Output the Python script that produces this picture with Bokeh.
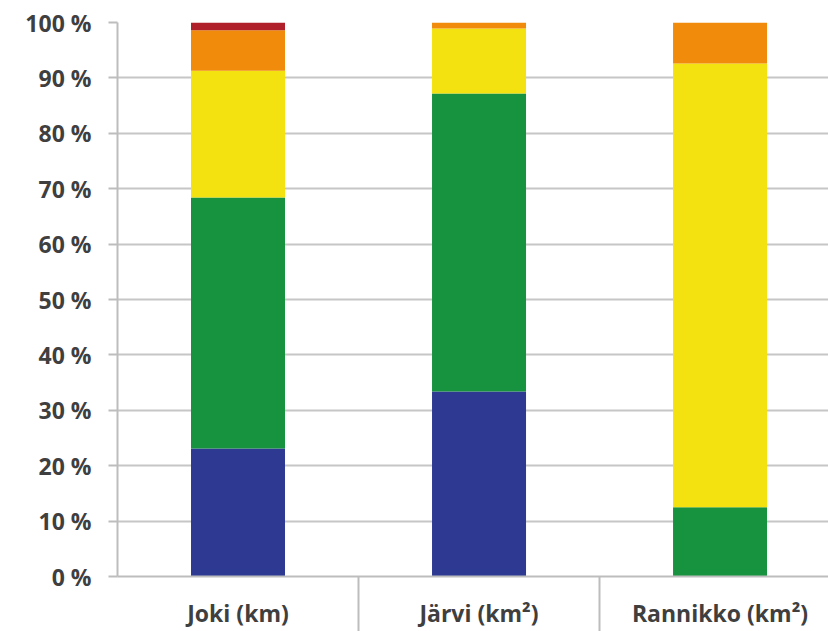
from bokeh.plotting import figure
from bokeh.models import Range1d, FixedTicker, ColumnDataSource
from bokeh.embed import file_html
from bokeh.resources import INLINE

categories = ["Joki (km)", "Järvi (km²)", "Rannikko (km²)"]
classes = ["Erinomainen", "Hyvä", "Tyydyttävä", "Välttävä", "Huono"]
erinomainen = [23.1, 33.4, 0.0]
hyva = [45.3, 53.8, 12.5]
tyydyttava = [22.9, 11.7, 80.1]
valttava = [7.3, 1.1, 7.4]
huono = [1.4, 0.0, 0.0]
colors = ["#2E3A92", "#17923F", "#F3E20F", "#F08B0B", "#B0202A"]
y_ticks = [0, 10, 20, 30, 40, 50, 60, 70, 80, 90, 100]
y_tick_labels = ["0 %", "10 %", "20 %", "30 %", "40 %", "50 %", "60 %", "70 %", "80 %", "90 %", "100 %"]

xpos = [i + 0.5 for i in range(len(categories))]
src = ColumnDataSource(dict(x=xpos, Erinomainen=erinomainen, Hyvä=hyva, Tyydyttävä=tyydyttava,
                            Välttävä=valttava, Huono=huono))

p = figure(width=828, height=631, output_backend="svg", toolbar_location=None,
           x_range=Range1d(0, 2.95), y_range=Range1d(0, 100),
           min_border_left=117, min_border_right=0, min_border_top=22, min_border_bottom=55)
p.outline_line_color = None
p.background_fill_color = "white"
p.border_fill_color = "white"

p.vbar_stack(classes, x="x", width=0.39, color=colors, line_color=None, source=src)

font = "Open Sans"
# y axis
p.yaxis.ticker = FixedTicker(ticks=y_ticks)
p.yaxis.major_label_overrides = {t: l for t, l in zip(y_ticks, y_tick_labels)}
p.yaxis.axis_line_color = "#BDBDBD"
p.yaxis.axis_line_width = 2
p.yaxis.major_tick_line_color = "#BDBDBD"
p.yaxis.major_tick_line_width = 2
p.yaxis.major_tick_out = 9
p.yaxis.major_tick_in = 0
p.yaxis.minor_tick_line_color = None
p.yaxis.major_label_text_font = font
p.yaxis.major_label_text_font_size = "23px"
p.yaxis.major_label_text_font_style = "bold"
p.yaxis.major_label_text_color = "#3F3F3F"
p.yaxis.major_label_standoff = 17

# x axis
p.xaxis.ticker = FixedTicker(ticks=xpos, minor_ticks=[1, 2, 3])
p.xaxis.major_label_overrides = {x: c for x, c in zip(xpos, categories)}
p.xaxis.axis_line_color = "#BDBDBD"
p.xaxis.axis_line_width = 2
p.xaxis.major_tick_line_color = None
p.xaxis.minor_tick_line_color = "#BDBDBD"
p.xaxis.minor_tick_line_width = 2
p.xaxis.minor_tick_out = 55
p.xaxis.minor_tick_in = 0
p.xaxis.major_label_text_font = font
p.xaxis.major_label_text_font_size = "23px"
p.xaxis.major_label_text_font_style = "bold"
p.xaxis.major_label_text_color = "#3F3F3F"
p.xaxis.major_label_standoff = -35

p.xgrid.grid_line_color = None
p.ygrid.ticker = FixedTicker(ticks=y_ticks)
p.ygrid.grid_line_color = "#C6C6C6"
p.ygrid.grid_line_width = 2

open("out.html", "w").write(file_html(p, INLINE))
